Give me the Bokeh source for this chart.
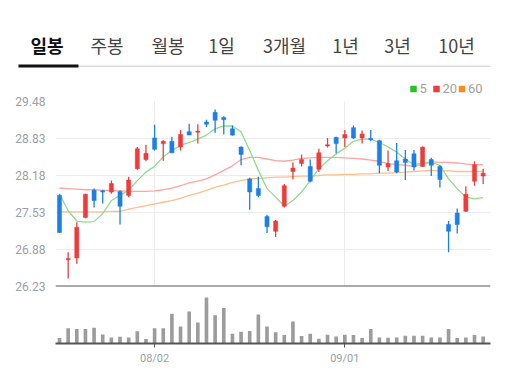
from bokeh.plotting import figure
from bokeh.layouts import column
from bokeh.models import (Range1d, FixedTicker, PrintfTickFormatter, Grid, Span,
                          ColumnDataSource)
from bokeh.embed import file_html
from bokeh.resources import INLINE
from bokeh.core.properties import value

# ---------------- data ----------------
tab_labels = ["일봉", "주봉", "월봉", "1일", "3개월", "1년", "3년", "10년"]
legend_labels = ["5", "20", "60"]

opens = [27.83, 26.70, 26.73, 27.44, 27.92, 27.91, 27.89, 27.90, 27.83, 28.30,
         28.46, 28.84, 28.74, 28.78, 28.68, 28.95, 28.94, 29.12, 29.29, 29.20,
         29.00, 28.68, 28.12, 27.95, 27.46, 27.20, 27.64, 28.25, 28.39, 28.34,
         28.29, 28.70, 28.85, 28.84, 29.02, 28.84, 28.83, 28.79, 28.33, 28.44,
         28.47, 28.56, 28.34, 28.46, 28.34, 27.32, 27.52, 27.55, 28.08, 28.17]
highs = [27.85, 26.83, 27.36, 27.86, 27.95, 27.93, 28.09, 27.92, 28.16, 28.68,
         28.72, 29.07, 28.80, 28.86, 28.98, 29.09, 29.08, 29.16, 29.34, 29.22,
         29.06, 28.69, 28.14, 28.16, 27.49, 27.40, 28.03, 28.41, 28.55, 28.46,
         28.65, 28.84, 28.86, 28.98, 29.06, 28.97, 28.98, 28.81, 28.62, 28.75,
         28.63, 28.63, 28.69, 28.49, 28.36, 27.38, 27.60, 27.99, 28.43, 28.30]
lows = [27.17, 26.37, 26.63, 27.43, 27.62, 27.69, 27.86, 27.32, 27.80, 28.28,
        28.43, 28.62, 28.44, 28.57, 28.62, 28.89, 28.74, 29.03, 28.93, 28.90,
        28.88, 28.36, 27.58, 27.80, 27.17, 27.10, 27.62, 28.11, 28.34, 28.06,
        28.24, 28.67, 28.57, 28.68, 28.82, 28.74, 28.78, 28.22, 28.26, 28.22,
        28.10, 28.27, 28.33, 28.17, 27.97, 26.83, 27.16, 27.54, 28.00, 28.03]
closes = [27.18, 26.72, 27.27, 27.85, 27.74, 27.89, 28.04, 27.64, 28.10, 28.65,
          28.57, 28.64, 28.78, 28.58, 28.90, 28.89, 28.96, 29.08, 29.15, 29.16,
          28.89, 28.55, 27.89, 27.83, 27.28, 27.38, 28.00, 28.31, 28.46, 28.08,
          28.58, 28.72, 28.74, 28.90, 28.84, 28.91, 28.81, 28.36, 28.39, 28.24,
          28.41, 28.33, 28.68, 28.36, 28.11, 27.20, 27.32, 27.85, 28.37, 28.22]

ma5 = [27.86, 27.56, 27.38, 27.36, 27.37, 27.51, 27.74, 27.83, 27.92, 28.09,
       28.24, 28.34, 28.51, 28.62, 28.71, 28.76, 28.82, 28.89, 29.00, 29.05,
       29.05, 28.95, 28.62, 28.27, 27.95, 27.80, 27.64, 27.74, 27.89, 28.09,
       28.30, 28.44, 28.56, 28.66, 28.78, 28.82, 28.82, 28.76, 28.68, 28.59,
       28.47, 28.37, 28.40, 28.41, 28.36, 28.12, 27.95, 27.80, 27.77, 27.79]
ma20 = [27.96, 27.95, 27.94, 27.93, 27.93, 27.92, 27.92, 27.91, 27.90, 27.90,
        27.90, 27.91, 27.93, 27.96, 28.00, 28.05, 28.08, 28.12, 28.19, 28.27,
        28.35, 28.46, 28.50, 28.50, 28.47, 28.44, 28.43, 28.45, 28.48, 28.49,
        28.50, 28.50, 28.50, 28.49, 28.48, 28.47, 28.45, 28.43, 28.39, 28.37,
        28.36, 28.34, 28.38, 28.42, 28.41, 28.41, 28.40, 28.38, 28.37, 28.37]
ma60 = [27.54, 27.54, 27.54, 27.54, 27.54, 27.54, 27.55, 27.55, 27.59, 27.62,
        27.65, 27.68, 27.71, 27.74, 27.78, 27.83, 27.87, 27.92, 27.97, 28.01,
        28.06, 28.09, 28.12, 28.13, 28.14, 28.15, 28.15, 28.16, 28.17, 28.17,
        28.18, 28.19, 28.19, 28.20, 28.20, 28.21, 28.21, 28.22, 28.22, 28.23,
        28.24, 28.25, 28.26, 28.27, 28.26, 28.26, 28.25, 28.25, 28.25, 28.25]

volumes = [16, 45, 43, 43, 47, 27, 18, 20, 18, 36, 13, 45, 45, 88, 50, 95, 62, 136, 84, 105,
           29, 35, 37, 86, 50, 33, 25, 65, 22, 29, 14, 26, 21, 26, 25, 16, 43, 18, 17, 18,
           23, 23, 23, 18, 18, 43, 16, 18, 25, 21]
volumes = [v * 1000 for v in volumes]

price_ticks = [26.23, 26.88, 27.53, 28.18, 28.83, 29.48]
date_tick_idx = [11, 33]
date_tick_labels = ["08/02", "09/01"]

# ---------------- styles ----------------
RED = "#ef3b3b"
BLUE = "#1b7fe6"
NUM_FONT = "Roboto"
KR_FONT = "Noto Sans CJK KR"
LABEL_GRAY = "#9aa0a8"
W = 512
FRAME_L, FRAME_R = 55, 22
HDR_H = 96

n = len(opens)
idx = list(range(n))
colors = [RED if c >= o else BLUE for o, c in zip(opens, closes)]
src = ColumnDataSource(dict(x=idx, o=opens, h=highs, l=lows, c=closes,
                            top=[max(a, b) for a, b in zip(opens, closes)],
                            bot=[min(a, b) for a, b in zip(opens, closes)],
                            color=colors, ma5=ma5, ma20=ma20, ma60=ma60, vol=volumes))

x_range = Range1d(-0.463, 49.85)

# ---------------- header (tabs + MA legend) ----------------
hdr = figure(width=W, height=HDR_H, x_range=Range1d(0, W), y_range=Range1d(HDR_H, 0),
             toolbar_location=None, output_backend="svg", min_border=0,
             x_axis_location=None, y_axis_location=None)
hdr.grid.visible = False
hdr.outline_line_color = None
tab_x = [46.5, 106.5, 167.5, 221, 284, 345, 397, 456]
hdr.text(x=tab_x[:1], y=[44], text=tab_labels[:1], text_font=value(KR_FONT),
         text_font_size="18px", text_font_style="bold", text_color="#111111",
         text_align="center", text_baseline="middle")
hdr.text(x=tab_x[1:], y=[44] * (len(tab_labels) - 1), text=tab_labels[1:],
         text_font=value(KR_FONT), text_font_size="18px", text_color="#444444",
         text_align="center", text_baseline="middle")
hdr.segment(x0=[78], y0=[65.7], x1=[490], y1=[65.7], line_color="#c8c8c8", line_width=1)
hdr.segment(x0=[18], y0=[65.5], x1=[78], y1=[65.5], line_color="#111111", line_width=3)

leg_colors = ["#22c322", "#f23a3a", "#ff8c1a"]
leg_sq_x = [413, 436, 461.5]
leg_tx_x = [419, 442, 467.5]
hdr.rect(x=leg_sq_x, y=[88.5] * 3, width=6.5, height=6.5, fill_color=leg_colors,
         line_color=None)
hdr.text(x=leg_tx_x, y=[88] * 3, text=legend_labels, text_font=value(NUM_FONT),
         text_font_size="13px", text_color="#a2a2a2", text_align="left",
         text_baseline="middle")

# ---------------- price chart ----------------
p = figure(width=W, height=199, x_range=x_range, y_range=Range1d(26.23, 29.48),
           toolbar_location=None, output_backend="svg",
           x_axis_location=None, y_axis_location="left",
           min_border_left=FRAME_L, min_border_right=FRAME_R,
           min_border_top=5, min_border_bottom=9)
p.outline_line_color = None
p.yaxis.ticker = FixedTicker(ticks=price_ticks)
p.yaxis.formatter = PrintfTickFormatter(format="%.2f")
p.yaxis.axis_line_color = None
p.yaxis.major_tick_line_color = None
p.yaxis.minor_tick_line_color = None
p.yaxis.major_label_text_font = NUM_FONT
p.yaxis.major_label_text_font_size = "12px"
p.yaxis.major_label_text_color = LABEL_GRAY
p.yaxis.major_label_standoff = 4
p.ygrid.ticker = FixedTicker(ticks=price_ticks)
p.ygrid.grid_line_color = "#ececec"
p.xgrid.visible = False
p.add_layout(Grid(dimension=0, ticker=FixedTicker(ticks=date_tick_idx),
                  grid_line_color="#ececec"))
p.add_layout(Span(location=26.23, dimension="width", line_color="#555555", line_width=2))

p.line("x", "ma60", source=src, line_color="#ffbf8a", line_width=1.3)
p.line("x", "ma20", source=src, line_color="#ffa3a3", line_width=1.3)
p.line("x", "ma5", source=src, line_color="#8fdc8f", line_width=1.3)

p.segment(x0="x", y0="h", x1="x", y1="l", source=src, line_color="color", line_width=1.3)
p.vbar(x="x", top="top", bottom="bot", width=0.48, source=src,
       fill_color="color", line_color="color", line_width=0.5)

# ---------------- volume chart ----------------
v = figure(width=W, height=82, x_range=x_range, y_range=Range1d(0, max(volumes) * 1.045),
           toolbar_location=None, output_backend="svg",
           x_axis_location="below", y_axis_location=None,
           min_border_left=FRAME_L, min_border_right=FRAME_R,
           min_border_top=0, min_border_bottom=34)
v.outline_line_color = None
v.grid.visible = False
v.vbar(x="x", top="vol", width=0.42, source=src, fill_color="#9c9c9c", line_color=None)
v.xaxis.ticker = FixedTicker(ticks=date_tick_idx)
v.xaxis.major_label_overrides = dict(zip(date_tick_idx, date_tick_labels))
v.xaxis.axis_line_color = "#555555"
v.xaxis.axis_line_width = 2
v.xaxis.major_tick_line_color = "#555555"
v.xaxis.major_tick_in = 0
v.xaxis.major_tick_out = 4
v.xaxis.minor_tick_line_color = None
v.xaxis.major_label_text_font = NUM_FONT
v.xaxis.major_label_text_font_size = "11px"
v.xaxis.major_label_text_color = LABEL_GRAY
v.xaxis.major_label_standoff = 4

charts = column(p, v, spacing=0)
open("out.html", "w").write(file_html([hdr, charts], INLINE))
